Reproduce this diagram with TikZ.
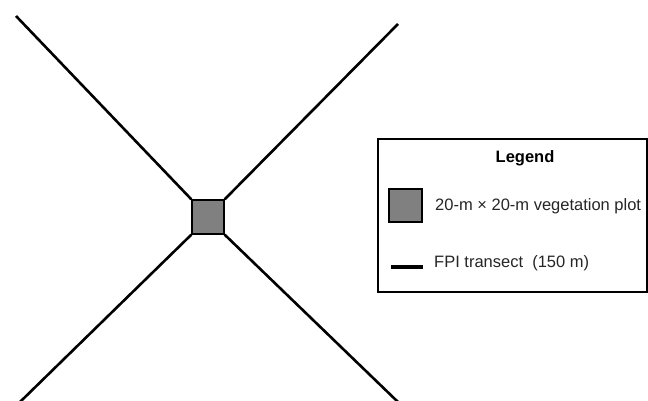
\documentclass[tikz,border=0pt]{standalone}
\usepackage{fontspec}
\setmainfont{Liberation Sans}
\begin{document}
\begin{tikzpicture}[x=1pt,y=-1pt,
  transect/.style={line width=2.6pt, black},
  plotbox/.style={draw=black, line width=1.3pt, minimum width=32pt, minimum height=34pt, inner sep=0pt},
  legbox/.style={draw=black, line width=1.5pt},
  legtext/.style={font=\fontsize{16.5}{18}\selectfont, anchor=west, inner sep=0pt, text=black!85}]
\useasboundingbox (0,0) rectangle (648,401);
\fill[white] (0,0) rectangle (648,401);
% central plot
\node[plotbox, fill={rgb,255:red,128;green,128;blue,128}] (plot) at (208,217) {};
\coordinate (tl) at (16,16);
\coordinate (tr) at (398,24);
\coordinate (bl) at (20,402);
\coordinate (br) at (398,402);
\draw[transect] (plot.north west) -- (tl);
\draw[transect] (plot.north east) -- (tr);
\draw[transect] (plot.south west) -- (bl);
\draw[transect] (plot.south east) -- (br);
% legend
\draw[legbox] (378,139) rectangle (647,292);
\node[font=\bfseries\fontsize{16.5}{18}\selectfont, inner sep=0pt] (leg) at (525,158) {Legend};
\node[draw=black, line width=1.2pt, fill={rgb,255:red,128;green,128;blue,128}, minimum width=33pt, minimum height=33pt, inner sep=0pt] (lsq) at (405.5,205.5) {};
\node[legtext] (lsqt) at (435,206) {20-m × 20-m vegetation plot};
\coordinate (la) at (391,267);
\coordinate (lb) at (423,267);
\draw[transect, line width=3.5pt] (la) -- (lb);
\node[legtext] (lt) at (434,263) {FPI transect\ \ (150 m)};
\end{tikzpicture}
\end{document}
